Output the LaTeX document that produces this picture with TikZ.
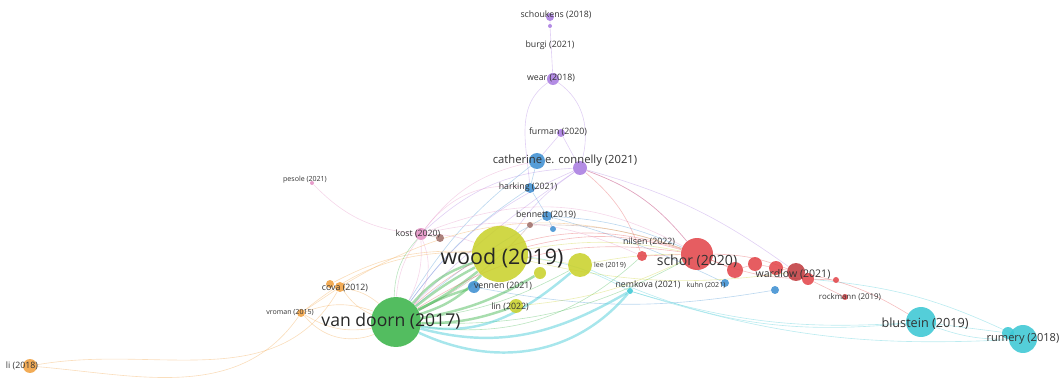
\documentclass[tikz,border=0pt]{standalone}
\usepackage{fontspec}
\setmainfont{Open Sans}
\usetikzlibrary{backgrounds}

\definecolor{cyel}{HTML}{C9D12C}
\definecolor{cgrn}{HTML}{3BB44A}
\definecolor{cred}{HTML}{E2474B}
\definecolor{ccya}{HTML}{3CC7D4}
\definecolor{cblu}{HTML}{3F8FD2}
\definecolor{cpur}{HTML}{A97CE0}
\definecolor{cora}{HTML}{F0A040}
\definecolor{cpnk}{HTML}{E48FC4}
\definecolor{cbrn}{HTML}{A0706A}

\begin{document}
\begin{tikzpicture}
[x=0.02cm, y=-0.02cm,
    bub/.style={circle, inner sep=0pt, minimum size=#1*0.4mm, fill opacity=0.88},
    lbl/.style={font=\fontsize{5}{6}\selectfont, text=black!80, inner sep=0pt},
    lnk/.style={draw=#1, draw opacity=0.35, line width=0.35pt},
    thk/.style={draw=#1, draw opacity=0.45, line width=1.4pt},
    ]
    \useasboundingbox (0,0) rectangle (1062,378);

    % purple cluster
    \node[bub=4, fill=cpur] (schoukens) at (550,17) {};
    \node[bub=2, fill=cpur] (burgi) at (550,26) {};
    \node[bub=6, fill=cpur] (wear) at (553,79) {};
    \node[bub=4, fill=cpur] (furman) at (561,133) {};
    \node[bub=7, fill=cpur] (connelly2) at (580,168) {};
    % blue cluster
    \node[bub=8, fill=cblu] (connelly) at (537,161) {};
    \node[bub=5, fill=cblu] (harking) at (530,188) {};
    \node[bub=5, fill=cblu] (bennett) at (547,216) {};
    \node[bub=3, fill=cblu] (blu1) at (553,229) {};
    \node[bub=6, fill=cblu] (vennen) at (474,287) {};
    \node[bub=4, fill=cblu] (blu2) at (725,283) {};
    \node[bub=4, fill=cblu] (blu3) at (775,290) {};
    % pink and brown
    \node[bub=2, fill=cpnk] (pesole) at (312,183) {};
    \node[bub=6, fill=cpnk] (kost) at (421,234) {};
    \node[bub=4, fill=cbrn] (brn1) at (440,238) {};
    \node[bub=3, fill=cbrn] (brn2) at (530,225) {};
    % yellow cluster
    \node[bub=28, fill=cyel] (wood) at (500,254) {};
    \node[bub=6, fill=cyel] (yel1) at (540,273) {};
    \node[bub=12, fill=cyel] (lee) at (580,265) {};
    \node[bub=7, fill=cyel] (lin) at (516,306) {};
    % green
    \node[bub=25, fill=cgrn] (vandoorn) at (396,322) {};
    % orange
    \node[bub=5, fill=cora] (cova) at (340,287) {};
    \node[bub=4, fill=cora] (ora1) at (330,284) {};
    \node[bub=4, fill=cora] (vroman) at (301,313) {};
    \node[bub=7, fill=cora] (li) at (30,366) {};
    % red cluster
    \node[bub=5, fill=cred] (nilsen) at (642,256) {};
    \node[bub=16, fill=cred] (schor) at (697,254) {};
    \node[bub=8, fill=cred] (red1) at (735,270) {};
    \node[bub=7, fill=cred] (red2) at (755,264) {};
    \node[bub=7, fill=cred] (red3) at (776,268) {};
    \node[bub=9, fill=cred!85!black] (wardlow) at (796,272) {};
    \node[bub=6, fill=cred] (red4) at (808,279) {};
    \node[bub=3, fill=cred] (red5) at (836,280) {};
    \node[bub=3, fill=cred] (rockmann) at (845,297) {};
    % cyan
    \node[bub=3, fill=ccya] (cya1) at (630,291) {};
    \node[bub=15, fill=ccya] (blustein) at (921,322) {};
    \node[bub=6, fill=ccya] (cya2) at (1008,333) {};
    \node[bub=14, fill=ccya] (rumery) at (1023,339) {};

    % labels
    \node[lbl] (schoukens-t) at (556,15) {schoukens (2018)};
    \node[lbl] (burgi-t) at (550,45) {burgi (2021)};
    \node[lbl] (wear-t) at (551,78) {wear (2018)};
    \node[lbl] (furman-t) at (558,132) {furman (2020)};
    \node[lbl, font=\fontsize{6.4}{7}\selectfont] (connelly-t) at (565,161) {catherine e. connelly (2021)};
    \node[lbl] (harking-t) at (528,187) {harking (2021)};
    \node[lbl] (bennett-t) at (546,215) {bennett (2019)};
    \node[lbl, font=\fontsize{4}{5}\selectfont] (pesole-t) at (305,180) {pesole (2021)};
    \node[lbl] (kost-t) at (418,234) {kost (2020)};
    \node[lbl, font=\fontsize{12.2}{14}\selectfont, text=black!85] (wood-t) at (502,258) {wood (2019)};
    \node[lbl, font=\fontsize{4}{5}\selectfont] (lee-t) at (610,265) {lee (2019)};
    \node[lbl] (nilsen-t) at (649,242) {nilsen (2022)};
    \node[lbl, font=\fontsize{8}{9}\selectfont] (schor-t) at (697,261) {schor (2020)};
    \node[lbl] (nemkova-t) at (648,285) {nemkova (2021)};
    \node[lbl, font=\fontsize{4}{5}\selectfont] (kuhn-t) at (706,285) {kuhn (2021)};
    \node[lbl, font=\fontsize{6}{7}\selectfont] (wardlow-t) at (793,274) {wardlow (2021)};
    \node[lbl, font=\fontsize{4.5}{5}\selectfont] (rockmann-t) at (850,297) {rockmann (2019)};
    \node[lbl, font=\fontsize{7.2}{8}\selectfont] (blustein-t) at (925,324) {blustein (2019)};
    \node[lbl, font=\fontsize{6.3}{7}\selectfont] (rumery-t) at (1023,339) {rumery (2018)};
    \node[lbl] (vennen-t) at (503,286) {vennen (2021)};
    \node[lbl] (lin-t) at (510,307) {lin (2022)};
    \node[lbl] (cova-t) at (345,288) {cova (2012)};
    \node[lbl, font=\fontsize{4}{5}\selectfont] (vroman-t) at (290,313) {vroman (2015)};
    \node[lbl, font=\fontsize{10}{12}\selectfont, text=black!85] (vandoorn-t) at (391,321) {van doorn (2017)};
    \node[lbl] (li-t) at (22,366) {li (2018)};

    \begin{scope}[on background layer]
    % purple links
    \draw[lnk=cpur] (schoukens) -- (burgi) -- (wear);
    \draw[lnk=cpur] (wear) to[out=215, in=95] (harking);
    \draw[lnk=cpur] (wear) to[out=-35, in=75] (connelly2);
    \draw[lnk=cpur] (furman) -- (connelly2);
    \draw[lnk=cpur] (furman) -- (connelly);
    \draw[lnk=cpur] (connelly2) to[bend right=20] (kost);
    \draw[lnk=cpur] (connelly2) to[bend right=10] (wood);
    \draw[lnk=cpur] (connelly2) to[bend left=15] (schor);
    \draw[lnk=cpur] (connelly2) to[bend left=10] (wardlow);
    \draw[lnk=cpur] (connelly2) to[bend right=5] (vandoorn);
    \draw[lnk=cpur] (connelly2) to[bend right=15] (vandoorn);
    % blue links
    \draw[lnk=cblu] (connelly) -- (harking) -- (bennett) -- (blu1);
    \draw[lnk=cblu] (connelly) to[bend right=10] (vandoorn);
    \draw[lnk=cblu] (harking) to[bend right=10] (vandoorn);
    \draw[lnk=cblu] (bennett) to[bend left=10] (schor);
    \draw[lnk=cblu] (bennett) to[bend left=5] (blu2);
    \draw[lnk=cblu] (bennett) to[bend right=5] (vandoorn);
    \draw[lnk=cblu] (vennen) to[bend right=10] (blu3);
    % pink links
    \draw[lnk=cpnk] (pesole) to[bend right=20] (kost);
    \draw[lnk=cpnk] (kost) to[bend right=15] (vandoorn);
    \draw[lnk=cpnk] (kost) to[bend left=15] (vandoorn);
    \draw[lnk=cpnk] (kost) to[bend left=30] (vandoorn);
    \draw[lnk=cpnk] (kost) to[bend left=10] (wood);
    \draw[lnk=cpnk] (kost) to[bend left=25] (schor);
    \draw[lnk=cpnk] (kost) to[bend left=18] (nilsen);
    \draw[lnk=cpnk] (kost) to[bend left=20] (connelly);
    \draw[lnk=cpnk] (kost) to[bend left=30] (harking);
    \draw[lnk=cbrn] (brn1) -- (kost);
    \draw[lnk=cbrn] (brn2) to[bend left=10] (vandoorn);
    \draw[lnk=cbrn] (brn2) to[bend left=10] (schor);
    % orange links
    \draw[lnk=cora] (li) to[out=-5, in=235] (vroman);
    \draw[lnk=cora] (li) to[out=10, in=240] (cova);
    \draw[lnk=cora] (vroman) to[bend left=20] (vandoorn);
    \draw[lnk=cora] (vroman) to[bend right=20] (vandoorn);
    \draw[lnk=cora] (vroman) to[bend right=35] (vandoorn);
    \draw[lnk=cora] (vroman) -- (cova);
    \draw[lnk=cora] (cova) to[bend left=15] (vandoorn);
    \draw[lnk=cora] (cova) to[bend right=15] (vandoorn);
    \draw[lnk=cora] (ora1) to[bend left=15] (wood);
    \draw[lnk=cora] (vroman) to[bend left=20] (wood);
    \draw[lnk=cora] (cova) to[bend left=25] (schor);
    % green links
    \draw[thk=cgrn] (vandoorn) to[bend left=15] (wood);
    \draw[thk=cgrn] (vandoorn) to[bend left=5] (wood);
    \draw[thk=cgrn] (vandoorn) to[bend right=5] (wood);
    \draw[thk=cgrn] (vandoorn) to[bend right=15] (wood);
    \draw[thk=cgrn] (vandoorn) to[bend right=10] (yel1);
    \draw[thk=cgrn] (vandoorn) to[bend left=5] (vennen);
    \draw[thk=cgrn] (vandoorn) to[bend right=10] (lin);
    \draw[lnk=cgrn] (vandoorn) to[bend left=20] (kost);
    \draw[lnk=cgrn] (vandoorn) to[bend right=15] (schor);
    \draw[lnk=cgrn] (vandoorn) to[bend right=25] (nilsen);
    \draw[lnk=cgrn] (vandoorn) to[bend right=10] (lee);
    % cyan links
    \draw[thk=ccya] (vandoorn) to[out=-10, in=220] (lee);
    \draw[thk=ccya] (vandoorn) to[out=-15, in=210] (cya1);
    \draw[thk=ccya] (vandoorn) to[out=-25, in=230] (cya1);
    \draw[lnk=ccya] (wood) to[bend left=10] (cya1);
    \draw[lnk=ccya] (lee) to[bend right=15] (blustein);
    \draw[lnk=ccya] (cya1) to[bend right=10] (blustein);
    \draw[lnk=ccya] (cya1) to[bend right=10] (rumery);
    \draw[lnk=ccya] (blustein) -- (cya2) -- (rumery);
    \draw[lnk=ccya] (blustein) to[bend right=10] (rumery);
    \draw[lnk=ccya] (red4) to[bend left=10] (rumery);
    % yellow links
    \draw[lnk=cyel] (wood) -- (lee);
    \draw[lnk=cyel] (wood) to[bend left=10] (schor);
    \draw[lnk=cyel] (wood) to[bend right=10] (wardlow);
    \draw[lnk=cyel] (lee) to[bend left=5] (schor);
    \draw[lnk=cyel] (lin) to[bend right=10] (schor);
    % red links
    \draw[lnk=cred] (schor) -- (nilsen);
    \draw[lnk=cred] (schor) -- (red1) -- (red2) -- (red3) -- (wardlow) -- (red4) -- (red5);
    \draw[lnk=cred] (schor) to[bend left=10] (wardlow);
    \draw[lnk=cred] (schor) to[bend right=10] (red4);
    \draw[lnk=cred] (red4) -- (rockmann);
    \draw[lnk=cred] (wardlow) to[bend left=10] (blustein);
    \draw[lnk=cred] (schor) to[bend right=15] (wood);
    \draw[lnk=cred] (schor) to[bend right=20] (vandoorn);
    \draw[lnk=cred] (schor) to[bend right=30] (vandoorn);
    \draw[lnk=cred] (nilsen) to[bend right=15] (connelly2);
    \draw[lnk=cred] (schor) to[bend right=15] (connelly2);
    \end{scope}
\end{tikzpicture}
\end{document}
